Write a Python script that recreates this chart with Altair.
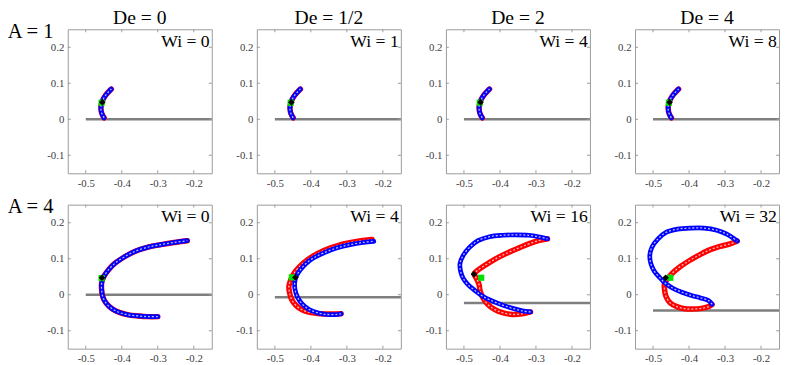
import altair as alt
import pandas as pd

# ---------------- data ----------------
DE_TITLES = ["De = 0", "De = 1/2", "De = 2", "De = 4"]
A_LABELS = ["A = 1", "A = 4"]
WI_ROW1 = ["Wi = 0", "Wi = 1", "Wi = 4", "Wi = 8"]
WI_ROW2 = ["Wi = 0", "Wi = 4", "Wi = 16", "Wi = 32"]
X_TICKS = [-0.5, -0.4, -0.3, -0.2]
Y_TICKS = [-0.1, 0.0, 0.1, 0.2]

# wall (grey line) heights per panel
WALL_ROW1 = [0.0, 0.0, 0.0, 0.0]
WALL_ROW2 = [0.0, -0.007, -0.023, -0.044]

# row 1 (A = 1): red and blue coincide in all four panels
R1_X = [-0.449, -0.455, -0.458, -0.456, -0.451, -0.444, -0.436, -0.429]
R1_Y = [0.004, 0.015, 0.030, 0.045, 0.057, 0.068, 0.077, 0.084]

# row 2, panel 1 (Wi = 0): red and blue coincide
P21_X = [-0.300, -0.327, -0.355, -0.382, -0.405, -0.427, -0.444, -0.453, -0.456,
         -0.456, -0.450, -0.436, -0.418, -0.391, -0.364, -0.327, -0.291, -0.255, -0.218]
P21_Y = [-0.061, -0.061, -0.059, -0.056, -0.050, -0.039, -0.023, -0.005, 0.014,
         0.032, 0.050, 0.070, 0.088, 0.106, 0.120, 0.132, 0.139, 0.145, 0.150]

# row 2, panel 2 (Wi = 4)
P22_RED_X = [-0.316, -0.345, -0.373, -0.400, -0.423, -0.441, -0.453, -0.459, -0.461,
             -0.456, -0.447, -0.432, -0.409, -0.382, -0.345, -0.309, -0.273, -0.230]
P22_RED_Y = [-0.053, -0.054, -0.053, -0.050, -0.043, -0.030, -0.014, 0.005, 0.023,
             0.041, 0.059, 0.077, 0.097, 0.114, 0.130, 0.141, 0.148, 0.153]
P22_BLUE_X = [-0.316, -0.327, -0.355, -0.382, -0.405, -0.423, -0.436, -0.444, -0.445,
              -0.441, -0.430, -0.414, -0.391, -0.364, -0.327, -0.291, -0.255, -0.225]
P22_BLUE_Y = [-0.053, -0.055, -0.055, -0.050, -0.041, -0.027, -0.009, 0.014, 0.032,
              0.050, 0.068, 0.086, 0.103, 0.116, 0.130, 0.139, 0.145, 0.148]

# row 2, panel 3 (Wi = 16)
P23_RED_X = [-0.315, -0.338, -0.365, -0.393, -0.415, -0.434, -0.447, -0.455, -0.458, -0.465,
             -0.472, -0.464, -0.447, -0.425, -0.402, -0.375, -0.347, -0.320, -0.293, -0.268]
P23_RED_Y = [-0.048, -0.053, -0.055, -0.050, -0.041, -0.027, -0.009, 0.010, 0.028, 0.045,
             0.058, 0.066, 0.078, 0.092, 0.105, 0.118, 0.130, 0.141, 0.150, 0.155]
P23_BLUE_X = [-0.315, -0.338, -0.365, -0.393, -0.420, -0.447, -0.470, -0.488, -0.502, -0.509,
              -0.511, -0.502, -0.484, -0.461, -0.429, -0.393, -0.356, -0.320, -0.293, -0.268]
P23_BLUE_Y = [-0.048, -0.045, -0.038, -0.029, -0.018, -0.005, 0.012, 0.027, 0.045, 0.064,
              0.086, 0.109, 0.132, 0.150, 0.161, 0.165, 0.166, 0.165, 0.161, 0.155]

# row 2, panel 4 (Wi = 32)
P24_RED_X = [-0.336, -0.345, -0.365, -0.390, -0.412, -0.432, -0.452, -0.464, -0.468, -0.468,
             -0.459, -0.445, -0.423, -0.395, -0.368, -0.341, -0.314, -0.286, -0.266]
P24_RED_Y = [-0.027, -0.033, -0.038, -0.040, -0.039, -0.034, -0.023, -0.005, 0.014, 0.032,
             0.045, 0.061, 0.079, 0.097, 0.112, 0.125, 0.134, 0.141, 0.149]
P24_BLUE_X = [-0.336, -0.345, -0.368, -0.391, -0.418, -0.445, -0.466, -0.482, -0.497, -0.506,
              -0.509, -0.503, -0.486, -0.464, -0.432, -0.395, -0.359, -0.323, -0.295, -0.266]
P24_BLUE_Y = [-0.027, -0.017, -0.009, -0.003, 0.006, 0.018, 0.032, 0.048, 0.066, 0.086,
              0.109, 0.132, 0.155, 0.173, 0.182, 0.185, 0.185, 0.179, 0.168, 0.149]

# centre markers (black) and green markers per panel
BLACK_ROW1 = [(-0.454, 0.047)] * 4
GREEN_ROW1 = [(-0.456, 0.046)] * 4
BLACK_ROW2 = [(-0.455, 0.047), (-0.443, 0.048), (-0.472, 0.057), (-0.465, 0.047)]
GREEN_ROW2 = [(-0.456, 0.046), (-0.453, 0.048), (-0.452, 0.047), (-0.452, 0.047)]

# ---------------- styling ----------------
SERIF = "Liberation Serif"
FRAME = "#9a9a9a"
XDOM = [-0.55, -0.15]
YDOM = [-0.15, 0.25]
PW, PH = 147, 147

LABEL_EXPR = ("datum.value == 0 ? '0' : (datum.value < 0 ? '-' + format(-datum.value, '.1f')"
              " : format(datum.value, '.1f'))")


def curve_layers(xs, ys, color, width):
    df = pd.DataFrame({"x": xs, "y": ys, "i": list(range(len(xs)))})
    band = alt.Chart(df).mark_line(color=color, strokeWidth=width, interpolate="catmull-rom",
                                   strokeCap="round").encode(
        x="x:Q", y="y:Q", order="i:Q")
    holes = alt.Chart(df).mark_line(color="white", strokeWidth=1.3, interpolate="catmull-rom",
                                    strokeDash=[2, 2], opacity=0.75).encode(
        x="x:Q", y="y:Q", order="i:Q")
    return [band, holes]


def panel(red, blue, black, green, wall, wi, title=None, ylabel=None):
    xaxis = alt.Axis(values=X_TICKS, labelExpr=LABEL_EXPR, title=None)
    if ylabel is not None:
        yaxis = alt.Axis(values=Y_TICKS, labelExpr=LABEL_EXPR, title=ylabel, titleAngle=0,
                         titleAlign="right", titleBaseline="middle", titleX=-15, titleY=2,
                         titleFont=SERIF, titleFontSize=21, titleFontWeight="normal",
                         titleColor="black")
    else:
        yaxis = alt.Axis(values=Y_TICKS, labelExpr=LABEL_EXPR, title=None)

    wall_df = pd.DataFrame({"x": [-0.5], "x2": [XDOM[1]], "y": [wall]})
    base = alt.Chart(wall_df).mark_rule(color="#7f7f7f", strokeWidth=2.5).encode(
        x=alt.X("x:Q", scale=alt.Scale(domain=XDOM, nice=False, zero=False), axis=xaxis),
        x2="x2:Q",
        y=alt.Y("y:Q", scale=alt.Scale(domain=YDOM, nice=False, zero=False), axis=yaxis),
    )

    layers = [base]
    layers += curve_layers(red[0], red[1], "#ff0000", 5.6)
    layers += curve_layers(blue[0], blue[1], "#0000ff", 4.8)

    gdf = pd.DataFrame({"x": [green[0]], "y": [green[1]]})
    layers.append(alt.Chart(gdf).mark_square(color="#00e000", size=40, opacity=1).encode(
        x="x:Q", y="y:Q"))
    bdf = pd.DataFrame({"x": [black[0]], "y": [black[1]]})
    layers.append(alt.Chart(bdf).mark_point(shape="diamond", filled=True, color="black",
                                            size=45, opacity=1).encode(x="x:Q", y="y:Q"))

    tdf = pd.DataFrame({"x": [-0.156], "y": [0.201], "t": [wi]})
    layers.append(alt.Chart(tdf).mark_text(align="right", baseline="alphabetic", font=SERIF,
                                           fontSize=18, color="black").encode(
        x="x:Q", y="y:Q", text="t:N"))

    # inward ticks on all four sides (half clipped by the frame)
    bt = pd.DataFrame({"x": X_TICKS * 2, "y": [YDOM[0]] * 4 + [YDOM[1]] * 4})
    lr = pd.DataFrame({"x": [XDOM[0]] * 4 + [XDOM[1]] * 4, "y": Y_TICKS * 2})
    layers.append(alt.Chart(bt).mark_tick(orient="vertical", size=6, thickness=1,
                                          color=FRAME, clip=True, opacity=1).encode(
        x="x:Q", y="y:Q"))
    layers.append(alt.Chart(lr).mark_tick(orient="horizontal", size=6, thickness=1,
                                          color=FRAME, clip=True, opacity=1).encode(
        x="x:Q", y="y:Q"))

    # column heading (De = ...) above the top row
    if title is not None:
        hdf = pd.DataFrame({"t": [title]})
        layers.append(alt.Chart(hdf).mark_text(align="center", baseline="alphabetic",
                                               font=SERIF, fontSize=20, color="black").encode(
            x=alt.value(PW / 2), y=alt.value(-5), text="t:N"))

    return alt.layer(*layers).properties(width=PW, height=PH)


panels = []
for c in range(4):
    panels.append(panel((R1_X, R1_Y), (R1_X, R1_Y), BLACK_ROW1[c], GREEN_ROW1[c], WALL_ROW1[c],
                        WI_ROW1[c], title=DE_TITLES[c], ylabel=A_LABELS[0] if c == 0 else None))

row2_red = [(P21_X, P21_Y), (P22_RED_X, P22_RED_Y), (P23_RED_X, P23_RED_Y), (P24_RED_X, P24_RED_Y)]
row2_blue = [(P21_X, P21_Y), (P22_BLUE_X, P22_BLUE_Y), (P23_BLUE_X, P23_BLUE_Y),
             (P24_BLUE_X, P24_BLUE_Y)]
for c in range(4):
    panels.append(panel(row2_red[c], row2_blue[c], BLACK_ROW2[c], GREEN_ROW2[c], WALL_ROW2[c],
                        WI_ROW2[c], ylabel=A_LABELS[1] if c == 0 else None))

chart = alt.concat(
    *panels, columns=4, spacing={"row": 32, "column": 46}, bounds="flush"
).properties(
    padding={"left": -3, "top": -4, "right": 0, "bottom": 0}
).configure_view(
    stroke=FRAME, strokeWidth=1
).configure_axis(
    domain=False, ticks=False, grid=False, labelFont=SERIF, labelFontSize=11,
    labelColor="#404040", labelPadding=4
)

chart.save("out.html", embed_options={"renderer": "svg", "actions": False})
